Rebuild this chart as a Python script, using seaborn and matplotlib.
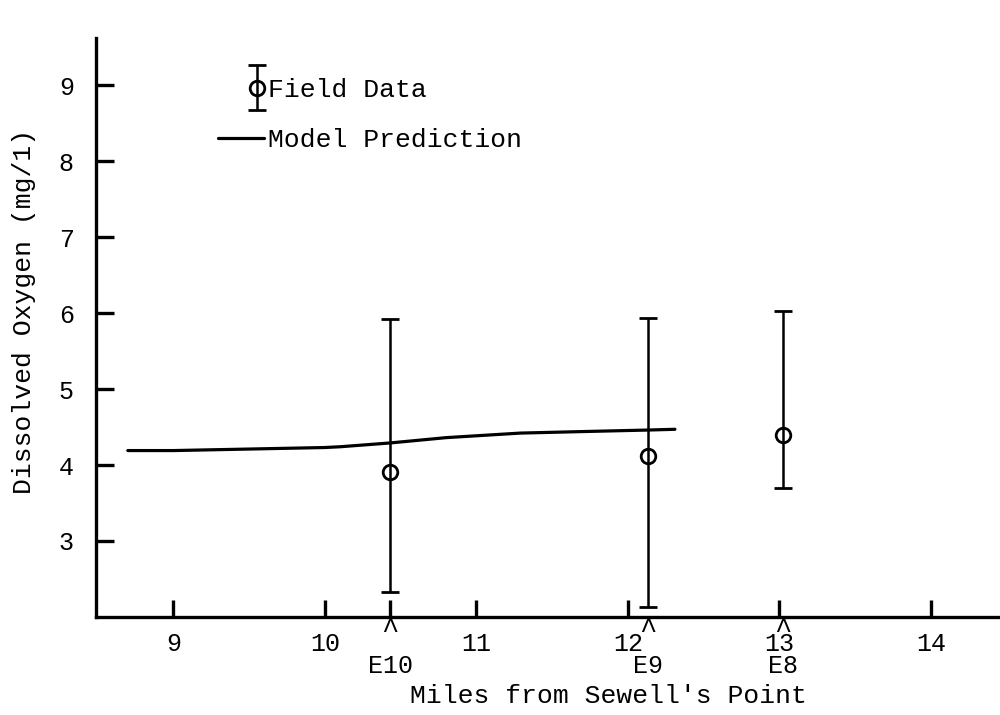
import numpy as np
import pandas as pd
import matplotlib
matplotlib.use("Agg")
import matplotlib.pyplot as plt
import seaborn as sns
from matplotlib.legend_handler import HandlerErrorbar
from matplotlib.container import ErrorbarContainer
from matplotlib.lines import Line2D

# ---------------- data ----------------
station_names = ["E10", "E9", "E8"]
station_miles = [10.43, 12.13, 13.02]
do_mean = [3.91, 4.12, 4.39]
do_low = [2.33, 2.13, 3.70]
do_high = [5.92, 5.94, 6.03]

model_miles = [8.70, 9.00, 9.50, 10.00, 10.10, 10.43, 10.80, 11.29, 11.70, 12.13, 12.31]
model_do = [4.19, 4.19, 4.21, 4.23, 4.24, 4.29, 4.36, 4.42, 4.44, 4.46, 4.47]

x_ticks = [9, 10, 11, 12, 13, 14]
y_ticks = [3, 4, 5, 6, 7, 8, 9]

x_label = "Miles from Sewell's Point"
y_label = "Dissolved Oxygen (mg/1)"
legend_labels = ["Field Data", "Model Prediction"]

# ---------------- style ----------------
sns.set_theme(style="white", rc={
    "text.color": "black", "axes.labelcolor": "black",
    "xtick.color": "black", "ytick.color": "black",
    "axes.edgecolor": "black",
})
plt.rcParams["font.family"] = ["Liberation Mono", "DejaVu Sans Mono"]

fig = plt.figure(figsize=(10, 7.15), dpi=100)
ax = fig.add_axes([0.096, 0.1371, 0.904, 0.8098])

model_df = pd.DataFrame({"miles": model_miles, "do": model_do})
sns.lineplot(data=model_df, x="miles", y="do", color="black", lw=2.3,
             ax=ax, legend=False, zorder=2)

field_df = pd.DataFrame({"miles": station_miles, "mean": do_mean,
                         "low": do_low, "high": do_high})
yerr = np.vstack([field_df["mean"] - field_df["low"],
                  field_df["high"] - field_df["mean"]])
eb = ax.errorbar(field_df["miles"], field_df["mean"], yerr=yerr, fmt="o",
                 mfc="none", mec="black", mew=2.0, ms=10.5, ecolor="black",
                 elinewidth=1.8, capsize=6.5, capthick=2.6, zorder=3)

ax.set_xlim(8.49, 14.455)
ax.set_ylim(2.0, 9.62)
ax.set_xticks(x_ticks)
ax.set_yticks(y_ticks)
ax.set_xticklabels([str(t) for t in x_ticks])
ax.set_yticklabels([str(t) for t in y_ticks])
ax.set_xticks([station_miles[0]], minor=True)

for s in ["top", "right"]:
    ax.spines[s].set_visible(False)
for s in ["left", "bottom"]:
    ax.spines[s].set_linewidth(2.4)

ax.tick_params(axis="x", which="both", direction="in", length=12, width=2.4,
               labelsize=18, pad=11, bottom=True, top=False)
ax.tick_params(axis="y", which="major", direction="in", length=13, width=2.4,
               labelsize=18, pad=16, left=True, right=False)

ax.set_xlabel(x_label, fontsize=19)
ax.set_ylabel(y_label, fontsize=19)
ax.xaxis.set_label_coords(0.567, -0.115)
ax.yaxis.set_label_coords(-0.066, 0.528)

# station markers under the axis
for name, xm in zip(station_names, station_miles):
    ax.annotate("^", xy=(xm, 0), xycoords=("data", "axes fraction"),
                xytext=(0, 0.5), textcoords="offset points",
                ha="center", va="top", fontsize=21)
    ax.annotate(name, xy=(xm, 0), xycoords=("data", "axes fraction"),
                xytext=(0, -27), textcoords="offset points",
                ha="center", va="top", fontsize=18)


class RightErrorbar(HandlerErrorbar):
    def get_xdata(self, legend, xdescent, ydescent, width, height, fontsize):
        xdata, _ = super().get_xdata(legend, xdescent, ydescent, width,
                                     height, fontsize)
        return xdata, [width - xdescent - 0.27 * fontsize]


model_handle = Line2D([], [], color="black", lw=2.3)
ax.legend(handles=[eb, model_handle], labels=legend_labels,
          handler_map={ErrorbarContainer: RightErrorbar(yerr_size=0.85)},
          loc="upper left", bbox_to_anchor=(0.135, 0.931), frameon=False,
          fontsize=19, handlelength=1.75, handletextpad=0.15,
          labelspacing=1.0, borderpad=0, borderaxespad=0)

fig.savefig("out.png", dpi=100, facecolor="white")
